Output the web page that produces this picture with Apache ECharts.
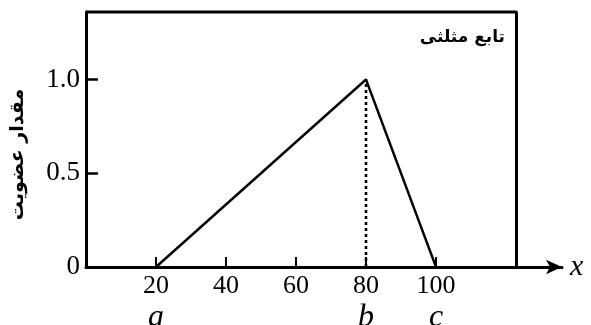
<!DOCTYPE html>
<html>
<head>
<meta charset="utf-8">
<script src="https://cdn.jsdelivr.net/npm/echarts@6/dist/echarts.min.js"></script>
<style>html,body{margin:0;padding:0;background:#fff}#c{width:591px;height:325px}</style>
</head>
<body>
<div id="c"></div>
<script>
// ---- data ----
const xTicks = [20, 40, 60, 80, 100];
const yTicks = [0, 0.5, 1.0];
const yTickLabels = ['0', '0.5', '1.0'];
const membershipX = [20, 80, 100];
const membershipY = [0, 1, 0];
const pointNames = ['a', 'b', 'c'];
const peakX = 80;
const peakY = 1;
const boxRightX = 123;
const xMax = 136;
const yMax = 1.36;
const chartTitle = 'تابع مثلثی';
const yAxisTitle = 'مقدار عضویت';
const xAxisTitle = 'x';

const triData = membershipX.map((x, i) => [x, membershipY[i]]);
const peakData = [[peakX, 0], [peakX, peakY]];
const boxData = [[0, yMax], [boxRightX, yMax], [boxRightX, 0]];

const chart = echarts.init(document.getElementById('c'), null, {renderer: 'canvas'});
const serif = 'Liberation Serif';
chart.setOption({
  animation: false,
  backgroundColor: '#ffffff',
  title: {
    text: chartTitle,
    right: 81, top: 24,
    textStyle: {fontFamily: 'DejaVu Sans', fontWeight: 'bold', fontSize: 17, color: '#000'}
  },
  grid: {left: 86, right: 591 - 86 - xMax * 3.5, top: 12, bottom: 58, containLabel: false, outerBoundsMode: 'none'},
  xAxis: [{
    type: 'value', min: 0, max: xMax,
    name: xAxisTitle, nameLocation: 'end', nameGap: 8,
    nameTextStyle: {fontFamily: serif, fontStyle: 'italic', fontSize: 30, color: '#000', verticalAlign: 'middle', padding: [0, 0, 6, 0]},
    axisLine: {show: true, lineStyle: {color: '#000', width: 3}, symbol: ['none', 'arrow'], symbolSize: [11, 16], symbolOffset: [0, 0]},
    axisTick: {show: true, inside: true, length: 10, customValues: xTicks, lineStyle: {color: '#000', width: 2}},
    axisLabel: {customValues: xTicks, fontFamily: serif, fontSize: 26, color: '#000', margin: 6},
    splitLine: {show: false}
  }, {
    type: 'value', min: 0, max: xMax, position: 'bottom',
    axisLine: {show: false}, axisTick: {show: false}, splitLine: {show: false},
    axisLabel: {
      customValues: membershipX, margin: 35,
      formatter: v => pointNames[membershipX.indexOf(v)],
      fontFamily: serif, fontStyle: 'italic', fontSize: 32, color: '#000'
    }
  }],
  yAxis: {
    type: 'value', min: 0, max: yMax,
    name: yAxisTitle, nameLocation: 'middle', nameGap: 58, nameRotate: 90,
    nameTextStyle: {fontFamily: 'DejaVu Sans', fontWeight: 'bold', fontSize: 19, color: '#000', padding: [0, 30, 0, 0]},
    axisLine: {show: true, lineStyle: {color: '#000', width: 3}},
    axisTick: {show: true, inside: true, length: 12, customValues: yTicks, lineStyle: {color: '#000', width: 2.5}},
    axisLabel: {customValues: yTicks, formatter: v => yTickLabels[yTicks.indexOf(v)], fontFamily: serif, fontSize: 27, color: '#000', margin: 6},
    splitLine: {show: false}
  },
  series: [{
    type: 'line', data: boxData, symbol: 'none', clip: false,
    lineStyle: {color: '#000', width: 3}, silent: true
  }, {
    type: 'line', data: triData, symbol: 'none', clip: false,
    lineStyle: {color: '#000', width: 2.4}
  }, {
    type: 'line', data: peakData, symbol: 'none',
    lineStyle: {color: '#000', width: 2.6, type: [3, 3]}
  }]
});
</script>
</body>
</html>
